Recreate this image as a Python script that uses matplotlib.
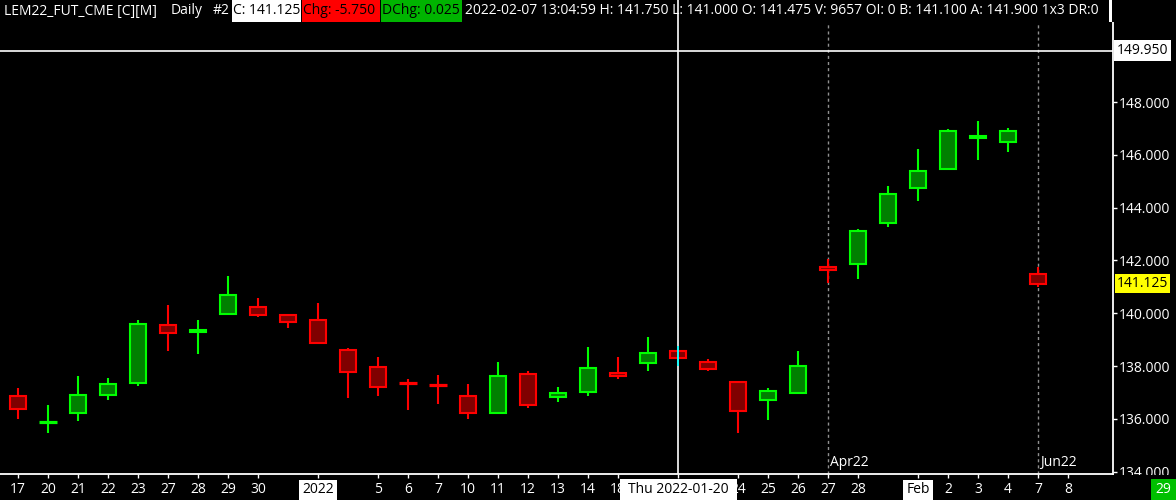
import matplotlib
matplotlib.use('Agg')
import matplotlib.pyplot as plt
from matplotlib.patches import Rectangle
import matplotlib.transforms as mtransforms

# ---------------- data ----------------
dates = ['2021-12-17', '2021-12-20', '2021-12-21', '2021-12-22', '2021-12-23',
         '2021-12-27', '2021-12-28', '2021-12-29', '2021-12-30', '2021-12-31',
         '2022-01-03', '2022-01-04', '2022-01-05', '2022-01-06', '2022-01-07',
         '2022-01-10', '2022-01-11', '2022-01-12', '2022-01-13', '2022-01-14',
         '2022-01-18', '2022-01-19', '2022-01-20', '2022-01-21', '2022-01-24',
         '2022-01-25', '2022-01-26', '2022-01-27', '2022-01-28', '2022-01-31',
         '2022-02-01', '2022-02-02', '2022-02-03', '2022-02-04', '2022-02-07']
opens = [136.875, 135.850, 136.225, 136.900, 137.350, 139.550, 139.300, 139.975, 140.250, 139.950,
         139.750, 138.600, 137.950, 137.350, 137.300, 136.850, 136.225, 137.700, 136.825, 137.000,
         137.725, 138.100, 138.575, 138.150, 137.400, 136.700, 136.975, 141.750, 141.875, 143.400,
         144.725, 145.475, 146.650, 146.500, 141.475]
highs = [137.175, 136.525, 137.625, 137.550, 139.725, 140.300, 139.725, 141.400, 140.575, 139.950,
         140.375, 138.675, 138.325, 137.500, 137.675, 137.325, 138.150, 137.825, 137.200, 138.725,
         138.350, 139.100, 138.775, 138.275, 137.400, 137.175, 138.575, 142.050, 143.200, 144.800,
         146.225, 146.975, 147.275, 147.000, 141.750]
lows = [135.975, 135.475, 135.925, 136.700, 137.225, 138.550, 138.450, 139.975, 139.850, 139.450,
        138.875, 136.775, 136.850, 136.350, 136.550, 136.000, 136.225, 136.400, 136.625, 136.850,
        137.500, 137.825, 138.000, 137.800, 135.475, 135.950, 136.975, 141.150, 141.300, 143.250,
        144.250, 145.475, 145.800, 146.100, 141.000]
closes = [136.375, 135.875, 136.900, 137.325, 139.600, 139.250, 139.375, 140.700, 139.950, 139.675,
          138.875, 137.775, 137.200, 137.325, 137.275, 136.225, 137.625, 136.525, 136.975, 137.925,
          137.625, 138.500, 138.300, 137.900, 136.300, 137.050, 138.000, 141.625, 143.100, 144.500,
          145.375, 146.900, 146.725, 146.900, 141.125]
x_labels = ['17', '20', '21', '22', '23', '27', '28', '29', '30', '', '2022', '', '5', '6', '7',
            '10', '11', '12', '13', '14', '18', '', '', '', '24', '25', '26', '27', '28', '',
            'Feb', '2', '3', '4', '7', '8']
boxed_labels = ['2022', 'Feb']
y_ticks = [134, 136, 138, 140, 142, 144, 146, 148]
cursor_date = '2022-01-20'
cursor_label = 'Thu 2022-01-20'
cursor_price = 149.950
roll_dates = ['2022-01-27', '2022-02-07']
roll_labels = ['Apr22', 'Jun22']
counter_text = '29'
header_plain = [  # (x pixel, text)
    (4, 'LEM22_FUT_CME [C][M]'),
    (171, 'Daily'),
    (213, '#2'),
    (465, '2022-02-07 13:04:59 H: 141.750 L: 141.000 O: 141.475 V: 9657 OI: 0 '
          'B: 141.100 A: 141.900 1x3 DR:0'),
]
header_boxed = [  # (left px, right px, text, box colour)
    (231.5, 300.5, 'C: 141.125', 'white'),
    (301.5, 379.5, 'Chg: -5.750', '#ff0000'),
    (380.5, 461.5, 'DChg: 0.025', '#00b400'),
]

# ---------------- style ----------------
FONT = 'Open Sans'
plt.rcParams['font.family'] = [FONT, 'DejaVu Sans']
FS = 10
UP_FILL, UP_EDGE = '#008000', '#00ff00'
DN_FILL, DN_EDGE = '#800000', '#ff0000'

W, H = 1176, 500
fig = plt.figure(figsize=(W / 100, H / 100), dpi=100, facecolor='black')
ax_right_px, ax_bottom_px = 1113, 474
ax = fig.add_axes([0, (H - ax_bottom_px) / H, ax_right_px / W, ax_bottom_px / H])
ax.set_facecolor('black')

px_per_bar = 30
first_bar_px = 18
x0 = -first_bar_px / px_per_bar
ax.set_xlim(x0, x0 + ax_right_px / px_per_bar)
px_per_unit = 26.4
ref_price, ref_px = 148.0, 102
ax.set_ylim(ref_price - (ax_bottom_px - ref_px) / px_per_unit, ref_price + ref_px / px_per_unit)

# candles
bw = 0.56
for i, (o, h, l, c) in enumerate(zip(opens, highs, lows, closes)):
    up = c >= o
    fill, edge = (UP_FILL, UP_EDGE) if up else (DN_FILL, DN_EDGE)
    lo, hi = min(o, c), max(o, c)
    ax.vlines(i, l, lo, color=edge, lw=1.5, zorder=2)
    ax.vlines(i, hi, h, color=edge, lw=1.5, zorder=2)
    if hi - lo < 0.03:
        ax.vlines(i, lo, hi, color=edge, lw=1.5, zorder=2)
        ax.hlines((lo + hi) / 2, i - bw / 2 - 0.03, i + bw / 2 + 0.03, color=edge, lw=2.3, zorder=3)
    else:
        ax.add_patch(Rectangle((i - bw / 2, lo), bw, hi - lo, facecolor=fill, edgecolor=edge,
                               lw=1.5, zorder=3))

# roll markers
for d, lab in zip(roll_dates, roll_labels):
    xi = dates.index(d)
    ax.axvline(xi, ymin=0, ymax=(ax_bottom_px - 22) / ax_bottom_px, color='#909090', lw=1.0,
               ls=(0, (2.2, 2.2)), zorder=1)
    ax.annotate(lab, xy=(xi, 0), xycoords=('data', 'axes fraction'), xytext=(2, 11.5),
                textcoords='offset pixels', color='white', fontsize=FS, ha='left', va='center',
                zorder=5)

# crosshair
ci = dates.index(cursor_date)
ax.axvline(ci, color='white', lw=1.2, zorder=6)
ax.vlines(ci, lows[ci], highs[ci], color='#00ffff', lw=1.3, zorder=7)
ax.axhline(cursor_price, color='white', lw=1.2, zorder=6)

# spines
for s in ['top', 'left']:
    ax.spines[s].set_visible(False)
for s in ['right', 'bottom']:
    ax.spines[s].set_color('white')
    ax.spines[s].set_linewidth(1.3)

# y axis
ax.yaxis.tick_right()
ax.set_yticks(y_ticks)
ax.set_yticklabels([f'{v:.3f}' for v in y_ticks])
ax.tick_params(axis='y', colors='white', labelsize=FS, length=3, width=1, pad=1.5)

# x axis
tick_pos = [i for i, t in enumerate(x_labels) if t] + [ci]
tick_txt = [t for t in x_labels if t] + ['']
ax.set_xticks(tick_pos)
ax.set_xticklabels(tick_txt)
ax.tick_params(axis='x', colors='white', labelsize=FS, length=3, width=1, pad=3)
for lab in ax.get_xticklabels():
    if lab.get_text() in boxed_labels:
        lab.set_color('black')
        lab.set_bbox(dict(boxstyle='square,pad=0.2', facecolor='white', edgecolor='none'))

# cursor date box on the time axis
xfig = mtransforms.blended_transform_factory(ax.transData, fig.transFigure)
box_w = 117 / px_per_bar
ax.add_patch(Rectangle((ci - box_w / 2, 0), box_w, 21 / H, transform=xfig, facecolor='white',
                       edgecolor='none', zorder=10, clip_on=False))
ax.text(ci, 10.5 / H, cursor_label, transform=xfig, color='black', fontsize=FS, ha='center',
        va='center', zorder=11, clip_on=False)

# price boxes on the axis
ax.annotate(f'{closes[-1]:.3f}', xy=(1, closes[-1]), xycoords=('axes fraction', 'data'),
            xytext=(4, 0), textcoords='offset pixels', color='black', fontsize=FS, ha='left',
            va='center', bbox=dict(boxstyle='square,pad=0.15', facecolor='#ffff00', edgecolor='none'),
            zorder=10, annotation_clip=False)
ax.annotate(f'{cursor_price:.3f}', xy=(1, cursor_price), xycoords=('axes fraction', 'data'),
            xytext=(4, 0), textcoords='offset pixels', color='black', fontsize=FS, ha='left',
            va='center', bbox=dict(boxstyle='square,pad=0.2', facecolor='white', edgecolor='none'),
            zorder=10, annotation_clip=False)

# hide the lower part of the axis area (clips the lowest price label)
fig.add_artist(Rectangle((ax_right_px / W + 0.001, 0), 1, (H - ax_bottom_px - 1) / H,
                         transform=fig.transFigure, facecolor='black', edgecolor='none', zorder=8))
fig.add_artist(Rectangle((1151 / W, 0), 25 / W, 21 / H, transform=fig.transFigure,
                         facecolor='#00c000', edgecolor='none', zorder=9))
fig.text(1163.5 / W, 10.5 / H, counter_text, color='white', fontsize=FS, ha='center',
         va='center', zorder=10)

# header
hy = 1 - 11 / H
for xpx, txt in header_plain:
    fig.text(xpx / W, hy, txt, color='white', fontsize=FS, ha='left', va='center', zorder=12)
for x_l, x_r, txt, col in header_boxed:
    fig.add_artist(Rectangle((x_l / W, 1 - 22 / H), (x_r - x_l) / W, 22 / H,
                             transform=fig.transFigure, facecolor=col, edgecolor='none',
                             zorder=11))
    fig.text((x_l + 1.5) / W, hy, txt, color='black', fontsize=FS, ha='left', va='center',
             zorder=12)
fig.add_artist(Rectangle((1109 / W, 1 - 22 / H), 3 / W, 22 / H, transform=fig.transFigure,
                         facecolor='white', edgecolor='none', zorder=13))
fig.add_artist(Rectangle((1112 / W, 1 - 22 / H), 1, 22 / H, transform=fig.transFigure,
                         facecolor='black', edgecolor='none', zorder=13))

fig.savefig('out.png', dpi=100, facecolor='black')
